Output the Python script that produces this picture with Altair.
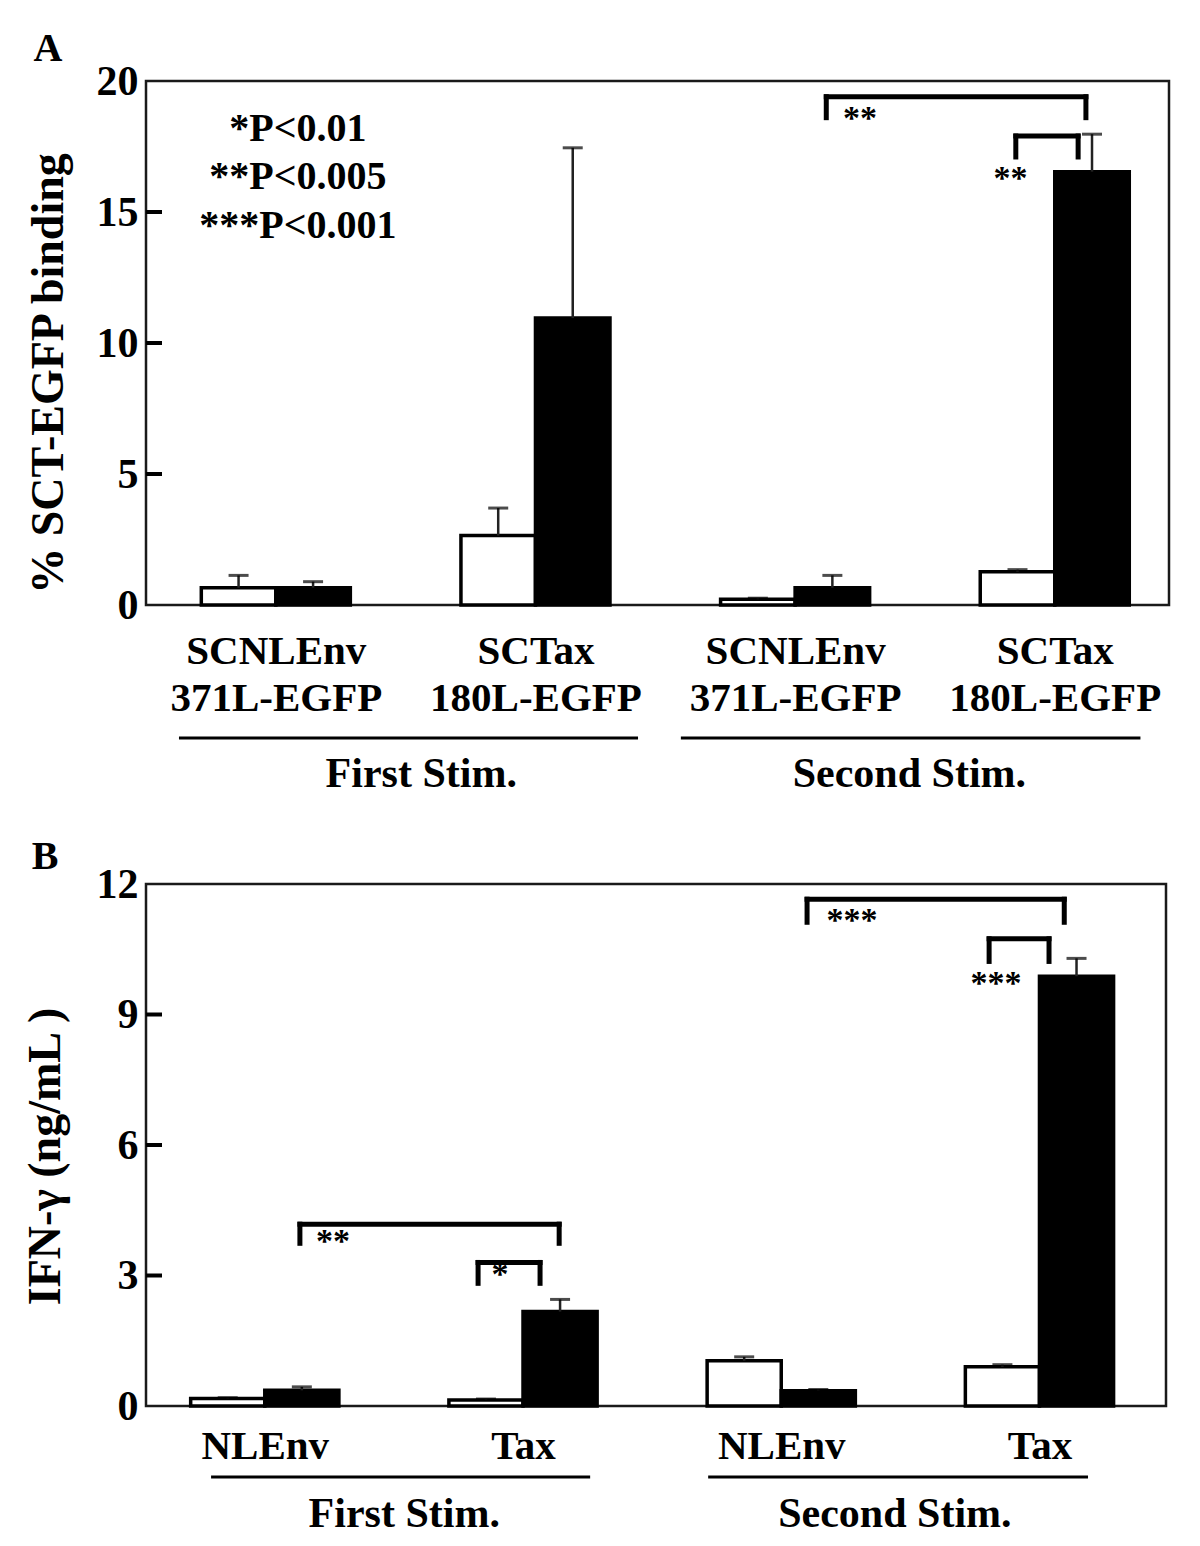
import json
import altair as alt
import pandas as pd

FONT = "Liberation Serif"

# ---------------- Panel A data ----------------
a_labels = [["SCNLEnv", "371L-EGFP"], ["SCTax", "180L-EGFP"],
            ["SCNLEnv", "371L-EGFP"], ["SCTax", "180L-EGFP"]]
a_white = [0.66, 2.65, 0.22, 1.27]
a_white_sd = [0.47, 1.05, 0.04, 0.08]
a_black = [0.66, 10.95, 0.66, 16.54]
a_black_sd = [0.23, 6.5, 0.47, 1.43]
a_yticks = [0, 5, 10, 15, 20]
a_brackets = [[2.62, 3.62, 19.4, 18.6], [3.35, 3.59, 17.9, 17.1]]
a_stars = ["**", "**"]
a_star_x = [2.75, 3.33]
a_star_y = [18.55, 16.26]
a_pvals = ["*P<0.01", "**P<0.005", "***P<0.001"]
a_pval_x = [0.585, 0.585, 0.585]
a_pval_y = [18.17, 16.34, 14.47]
a_stims = ["First Stim.", "Second Stim."]
a_stim_lo = [0.127, 2.06]
a_stim_hi = [1.895, 3.83]
a_stim_mid = [1.06, 2.94]

# ---------------- Panel B data ----------------
b_labels = ["NLEnv", "Tax", "NLEnv", "Tax"]
b_white = [0.17, 0.14, 1.04, 0.90]
b_white_sd = [0.02, 0.02, 0.09, 0.05]
b_black = [0.36, 2.17, 0.35, 9.88]
b_black_sd = [0.08, 0.28, 0.03, 0.41]
b_yticks = [0, 3, 6, 9, 12]
b_brackets = [[0.636, 1.64, 4.18, 3.74], [1.326, 1.566, 3.30, 2.82],
              [2.60, 3.596, 11.65, 11.12], [3.305, 3.537, 10.74, 10.22]]
b_stars = ["**", "*", "***", "***"]
b_star_x = [0.764, 1.411, 2.774, 3.332]
b_star_y = [3.76, 3.02, 11.15, 9.69]
b_stims = ["First Stim.", "Second Stim."]
b_stim_lo = [0.292, 2.217]
b_stim_hi = [1.76, 3.688]
b_stim_mid = [1.04, 2.94]

BW = 0.287  # bar width in x units


def panel(letter, labels, white, white_sd, black, black_sd, yticks, brackets,
          stars, star_x, star_y, stims, stim_lo, stim_hi, stim_mid,
          xdomain, width, height, ytitle, title_x, title_y, label_pad,
          stim_line_off, stim_text_off, letter_xy, pvals=None):
    rows = []
    for i in range(len(white)):
        c = i + 0.5
        rows.append(dict(series="white", x0=c - BW, x1=c, cx=c - BW / 2,
                         value=white[i], top=white[i] + white_sd[i]))
        rows.append(dict(series="black", x0=c, x1=c + BW, cx=c + BW / 2,
                         value=black[i], top=black[i] + black_sd[i]))
    bars_df = pd.DataFrame(rows)

    xscale = alt.Scale(domain=xdomain, nice=False, zero=False)
    yscale = alt.Scale(domain=[yticks[0], yticks[-1]], nice=False)

    expr = json.dumps(labels) + "[floor(datum.value)]"

    xaxis = alt.Axis(values=[i + 0.5 for i in range(len(labels))], labelExpr=expr,
                     ticks=False, domain=False, grid=False, title=None,
                     labelFontSize=41, labelPadding=label_pad, labelLineHeight=47,
                     labelOverlap=False, labelFlush=False, labelBound=False,
                     labelLimit=600)
    yaxis = alt.Axis(values=yticks, format="d", ticks=False, domain=False, grid=False,
                     title=ytitle, labelFontSize=42, labelPadding=8,
                     titleFontSize=46, titleX=title_x, titleY=title_y,
                     titleAlign="center", titleBaseline="middle", titleAngle=270,
                     titleLimit=800)

    def X(f):
        return alt.X(f, scale=xscale, axis=xaxis)

    def Y(f):
        return alt.Y(f, scale=yscale, axis=yaxis)

    base = alt.Chart(bars_df)
    bars = base.mark_bar(stroke="black", strokeWidth=3.5).encode(
        x=X("x0:Q"),
        x2="x1:Q",
        y=Y("value:Q"),
        y2=alt.datum(0),
        color=alt.Color("series:N", scale=alt.Scale(domain=["white", "black"],
                                                     range=["#ffffff", "#000000"]),
                        legend=None),
    )
    err = base.mark_rule(color="#222222", strokeWidth=2.5).encode(
        x=X("cx:Q"), y=Y("value:Q"), y2="top:Q")
    caps = base.mark_tick(orient="horizontal", size=20, thickness=3, color="black").encode(
        x=X("cx:Q"), y=Y("top:Q"))

    ticks_df = pd.DataFrame({"v": yticks[1:-1]})
    yt = alt.Chart(ticks_df).mark_rule(color="black", strokeWidth=4).encode(
        y=Y("v:Q"), x=alt.value(0), x2=alt.value(16))

    br_rows = []
    for x1, x2, yt_, yb in brackets:
        br_rows.append(dict(xa=x1, xb=x2, ya=yt_, yb=yt_))
        br_rows.append(dict(xa=x1, xb=x1, ya=yt_, yb=yb))
        br_rows.append(dict(xa=x2, xb=x2, ya=yt_, yb=yb))
    br = alt.Chart(pd.DataFrame(br_rows)).mark_rule(
        color="black", strokeWidth=5, strokeCap="square").encode(
        x=X("xa:Q"), x2="xb:Q", y=Y("ya:Q"), y2="yb:Q")

    st = alt.Chart(pd.DataFrame({"t": stars, "x": star_x, "y": star_y})).mark_text(
        font=FONT, fontWeight="bold", fontSize=34, align="center", baseline="middle",
        color="black").encode(x=X("x:Q"), y=Y("y:Q"), text="t:N")

    stim_df = pd.DataFrame({"t": stims, "lo": stim_lo, "hi": stim_hi, "mid": stim_mid})
    sl = alt.Chart(stim_df).mark_rule(color="black", strokeWidth=3).encode(
        x=X("lo:Q"), x2="hi:Q", y=alt.value(height + stim_line_off))
    stt = alt.Chart(stim_df).mark_text(font=FONT, fontWeight="bold", fontSize=42,
                                       align="center", baseline="middle", color="black").encode(
        x=X("mid:Q"), y=alt.value(height + stim_text_off), text="t:N")

    let = alt.Chart(pd.DataFrame({"t": [letter]})).mark_text(
        font=FONT, fontWeight="bold", fontSize=40, align="center", baseline="middle",
        color="black").encode(x=alt.value(letter_xy[0]), y=alt.value(letter_xy[1]), text="t:N")

    layers = [bars, err, caps, yt, br, st, sl, stt, let]
    if pvals is not None:
        pt, px, py = pvals
        pv = alt.Chart(pd.DataFrame({"t": pt, "x": px, "y": py})).mark_text(
            font=FONT, fontWeight="bold", fontSize=40, align="center", baseline="middle",
            color="black").encode(x=X("x:Q"), y=Y("y:Q"), text="t:N")
        layers.append(pv)
    return alt.layer(*layers).properties(width=width, height=height)


chart_a = panel("A", a_labels, a_white, a_white_sd, a_black, a_black_sd, a_yticks,
                a_brackets, a_stars, a_star_x, a_star_y, a_stims, a_stim_lo, a_stim_hi,
                a_stim_mid, [0, 3.94], 1023, 524, "% SCT-EGFP binding", -98, 292, 26,
                133, 169, (-98, -32), pvals=(a_pvals, a_pval_x, a_pval_y))

chart_b = panel("B", b_labels, b_white, b_white_sd, b_black, b_black_sd, b_yticks,
                b_brackets, b_stars, b_star_x, b_star_y, b_stims, b_stim_lo, b_stim_hi,
                b_stim_mid, [0.04, 3.99], 1020, 522, "IFN-γ (ng/mL )", -101, 272, 20,
                71, 108, (-101, -27))

chart = alt.vconcat(chart_a, chart_b, spacing=38).properties(
    padding={"left": 12, "top": 19, "right": 5, "bottom": 0}
).configure_view(
    stroke="#1a1a1a", strokeWidth=2.5
).configure_axis(
    labelFont=FONT, titleFont=FONT, labelFontWeight="bold", titleFontWeight="bold",
    labelColor="black", titleColor="black"
).configure_text(font=FONT)

chart.save("out.html", embed_options={"renderer": "svg", "actions": False})
